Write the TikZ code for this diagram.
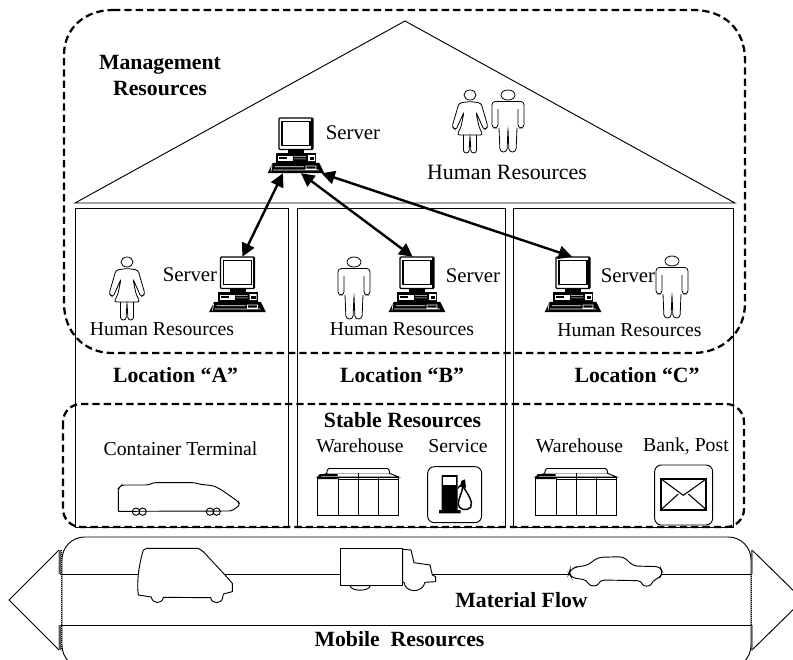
\documentclass[tikz,border=0pt]{standalone}
\usepackage{fontspec}
\setmainfont{Liberation Serif}
\usetikzlibrary{arrows.meta}
\newcommand{\fpx}[1]{\fontsize{#1}{#1}\selectfont}
\tikzset{
  x=0.75pt,y=-0.75pt,
  thin line/.style={line width=0.7pt,draw=black},
  dashbox/.style={line width=1.7pt,draw=black,dash pattern=on 5.5pt off 3pt},
  link/.style={line width=1.8pt,{Triangle[length=10pt,width=10pt]}-{Triangle[length=10pt,width=10pt]}},
  hub/.style={inner sep=0pt,minimum width=41.25pt,minimum height=41.25pt},
  txt/.style={inner sep=0pt,font=\fpx{14.8}},
  srvtxt/.style={inner sep=0pt,font=\fpx{15.6}},
  bigtxt/.style={inner sep=0pt,font=\fpx{16.4}},
  bld/.style={inner sep=0pt,font=\fpx{16.3}\bfseries},
  pics/srvicon/.style={code={
    \draw[line width=0.9pt,fill=white,rounded corners=0.8pt] (-17,0) rectangle (17,31.5);
    \draw[line width=1.3pt] (-14,3.5) rectangle (14,27.5);
    \draw[line width=1.2pt] (15.8,1) -- (15.8,31);
    \fill (-8,31.5) rectangle (8,35);
    \fill (-20,35) rectangle (20,45.5);
    \fill[white] (-18,37.5) rectangle (-3,42.5);
    \fill (-17,38.5) rectangle (-9,41);
    \fill[white] (-2,38) rectangle (10,38.7) (-2,40.5) rectangle (10,41.2) (12,37) rectangle (19,43);
    \fill (13.5,38.5) rectangle (18,41.5);
    \draw[line width=0.8pt,fill=black] (-23,45.5) -- (23,45.5) -- (27.5,54.5) -- (-27.5,54.5) -- cycle;
    \draw[line width=0.5pt,white] (-23,52) -- (23,52) (-21,48.7) -- (8,48.7) (10,48) rectangle (20,51) (-25,53.5) -- (-24,47);
  }},
  pics/manicon/.style={code={
    \draw[line width=0.6pt] (0,5) ellipse (7 and 5);
    \draw[line width=0.6pt,fill=white,rounded corners=2.5pt]
      (0,11.5) -- (16,11.5) -- (16,38) -- (10,38) -- (10,19);
    \draw[line width=0.6pt,fill=white,rounded corners=2.5pt]
      (0,11.5) -- (-16,11.5) -- (-16,38) -- (-10,38) -- (-10,19);
    \draw[line width=0.6pt,rounded corners=2.5pt]
      (-9,38) -- (-8,62) -- (-1,62) -- (0,38) -- (1,62) -- (8,62) -- (9,38);
  }},
  pics/womanicon/.style={code={
    \draw[line width=0.6pt] (0,5) ellipse (6 and 5);
    \draw[line width=0.6pt,fill=white,rounded corners=2pt]
      (0,11.5) -- (-11,13) -- (-18,37) -- (-14,40) -- (-6,22) -- (-9,37) -- (-13,45) -- (13,45) -- (9,37) -- (6,22) -- (14,40) -- (18,37) -- (11,13) -- cycle;
    \draw[line width=0.6pt,rounded corners=2pt]
      (-6.5,45) -- (-6.5,63) -- (-1,63) -- (0,45) -- (1,63) -- (6.5,63) -- (6.5,45);
  }},
  pics/depoticon/.style={code={
    \draw[line width=0.7pt] (0,-38) rectangle (81,0);
    \draw[line width=0.7pt] (20.3,-38) -- (20.3,0) (40.6,-42) -- (40.6,0) (61,-38) -- (61,0);
    \draw[line width=0.7pt,fill=white] (0,-38) -- (10,-42) -- (71,-42) -- (81,-38) -- cycle;
    \draw[line width=0.7pt,fill=white,rounded corners=1pt] (9,-42) -- (10,-46.5) -- (71,-46.5) -- (72,-42);
    \draw[line width=0.7pt] (0,-38) -- (81,-38) (40.6,-42) -- (40.6,-36);
    \fill (0,-39) rectangle (20,-36) (2,-41) -- (20,-41) -- (20,-38) -- (0,-38) -- cycle;
    \draw[line width=0.7pt] (20,-36) -- (81,-36);
  }},
}
\begin{document}
\begin{tikzpicture}
\useasboundingbox (0,0) rectangle (793,660);
\clip (0,0) rectangle (793,660);
% house
\draw[thin line] (75,203) -- (405,21) -- (735,203) -- cycle;
\draw[thin line] (75,208) rectangle (288,527);
\draw[thin line] (297,208) rectangle (505,527);
\draw[thin line] (513,208) rectangle (733,527);
% dashed zones
\draw[dashbox] (113,10) -- (693,10) .. controls (725,10) and (745,30) .. (745,60) -- (745,303)
  .. controls (745,333) and (722,353) .. (693,353) -- (112,353)
  .. controls (85,353) and (64,333) .. (64,303) -- (64,55)
  .. controls (64,28) and (85,10) .. (113,10) -- cycle;
\draw[dashbox,rounded corners=13.5pt] (63,404) rectangle (744,527);
% mobile band
\draw[thin line,rounded corners=17pt] (62,537) rectangle (751,668);
\draw[thin line,fill=white] (59,550) -- (9,600) -- (59,650);
\draw[thin line] (752,550) -- (803,600) -- (752,650);
\draw[thin line] (60,574) -- (751,574) (60,625) -- (751,625);
\fill[black!65] (58.5,550) rectangle (61,574) (58.5,625) rectangle (61,650);
\draw[line width=0.6pt,dash pattern=on 0.8pt off 0.7pt] (61,550) -- (61,650) (751,550) -- (751,650);
\fill[black!65] (751,550) rectangle (752.5,574) (751,625) rectangle (752.5,650);
% vehicles and terminal
\begin{scope}[shift={(0,420)},x=0.25pt,y=-0.25pt]
  \begin{scope}[line width=0.7pt]
  % train
  \draw[fill=white,rounded corners=2pt] (355,274) -- (355,205) -- (365,195) -- (445,195) -- (460,188) -- (585,188) -- (600,193) -- (640,197) -- (665,210) -- (715,245) -- (720,255) -- (695,273) -- (355,274);
  \draw (408,275) circle (11) (428,275) circle (11) (630,275) circle (11) (650,275) circle (11);
  % van
  \draw[fill=white] (415,525) .. controls (410,490) and (415,440) .. (430,390) -- (440,385) -- (595,385) -- (610,395) -- (675,465) -- (697,490) -- (697,515) -- (670,522) -- (668,533) .. controls (665,553) and (635,553) .. (632,533) -- (490,532) .. controls (487,553) and (457,553) .. (454,531) -- cycle;
  % truck
  \draw[fill=white] (1050,497) .. controls (1053,515) and (1108,515) .. (1111,497) -- cycle;
  \draw[fill=white] (1208,388) -- (1233,390) -- (1242,428) -- (1290,435) -- (1297,465) -- (1307,470) -- (1307,485) -- (1275,487) .. controls (1268,520) and (1216,520) .. (1212,487) -- (1208,487) -- cycle;
  \draw[fill=white] (1020,385) rectangle (1208,497);
  % car
  \draw[fill=white,rounded corners=3pt] (1710,450) -- (1730,440) -- (1760,437) -- (1795,412) -- (1870,410) -- (1900,438) -- (1980,440) -- (1988,458) -- (1980,472) -- (1958,482) .. controls (1950,500) and (1930,500) .. (1924,482) -- (1800,480) .. controls (1792,500) and (1770,500) .. (1760,480) -- (1715,473) -- (1707,460) -- cycle;
  % service icon
  \draw[rounded corners=5pt] (1283,140) rectangle (1445,308);
  \fill (1325,165) rectangle (1373,270) (1317,270) rectangle (1382,280);
  \fill[white] (1330,172) rectangle (1367,195);
  \draw[line width=1.1pt] (1390,200) .. controls (1405,225) and (1420,245) .. (1412,262) .. controls (1400,275) and (1375,270) .. (1375,250) .. controls (1375,235) and (1388,215) .. (1388,200);
  \fill (1380,200) -- (1384,183) -- (1395,178) -- (1398,203) -- cycle;
  \draw[line width=1pt] (1373,205) -- (1382,195);
  % post icon
  \draw[rounded corners=5pt] (1964,135) rectangle (2138,315);
  \draw[line width=0.8pt] (1982,176) rectangle (2120,270);
  \draw[line width=0.8pt] (1982,176) -- (2050,226) -- (2120,176);
  \draw[line width=0.8pt] (1982,270) -- (2035,222) (2120,270) -- (2065,222);
  \draw[line width=0.4pt] (1985,179) rectangle (2117,267);
  \end{scope}
\end{scope}
\pic at (317.7,515) {depoticon};
\pic at (535.7,515) {depoticon};
% people
\pic at (470,90) {womanicon};
\pic at (508,90) {manicon};
\pic at (127,257) {womanicon};
\pic at (354,257) {manicon};
% servers
\node[hub] (srvT) at (296.5,145.5) {};
\node[hub] (srvA) at (237.5,284.5) {};
\node[hub] (srvB) at (417,284.5) {};
\node[hub] (srvC) at (573,284.5) {};
\pic at (296,118) {srvicon};
\pic at (237.5,257) {srvicon};
\pic at (417,257) {srvicon};
\pic at (573,257) {srvicon};
\draw[link] (srvT.244) -- (srvA.80);
\draw[link] (srvT.279) -- (srvB.99);
\draw[link] (srvT.312) -- (srvC.92);
% text
\node[bld,align=center] (tMgmt) at (160,75.5) {Management\\[3.5pt]Resources};
\node[srvtxt] (tS0) at (353,133) {Server};
\node[bigtxt] (tH0) at (507,172) {Human Resources};
\node[srvtxt] (tSA) at (190,275) {Server};
\node[srvtxt] (tSB) at (473,276) {Server};
\node[srvtxt] (tSC) at (628,276) {Server};
\pic at (672,256) {manicon};
\node[txt] (tHA) at (162,329) {Human Resources};
\node[txt] (tHB) at (402,329) {Human Resources};
\node[txt] (tHC) at (629.5,330) {Human Resources};
\node[bld] (tLA) at (175.6,375) {Location “A”};
\node[bld] (tLB) at (402,375) {Location “B”};
\node[bld] (tLC) at (637,375) {Location “C”};
\node[bld] (tStable) at (402.5,420) {Stable Resources};
\node[txt] (tCont) at (180.5,449) {Container Terminal};
\node[txt] (tW1) at (360,446) {Warehouse};
\node[txt] (tSvc) at (458,446) {Service};
\node[txt] (tW2) at (579.5,446) {Warehouse};
\node[txt] (tBank) at (686,446) {Bank, Post};
\node[bld] (tFlow) at (521.5,600) {Material Flow};
\node[bld] (tMob) at (399.5,639) {Mobile\ \ Resources};
\end{tikzpicture}
\end{document}
